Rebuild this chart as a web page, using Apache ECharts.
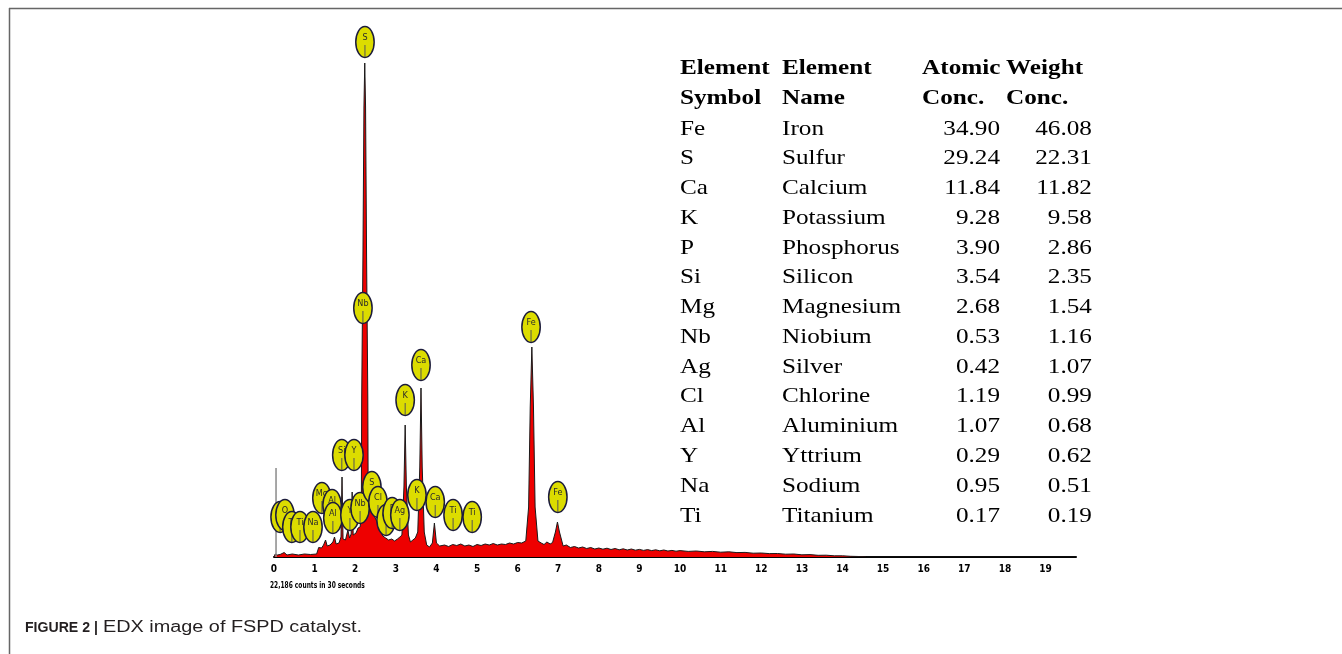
<!DOCTYPE html>
<html><head><meta charset="utf-8">
<script src="https://cdn.jsdelivr.net/npm/echarts@6/dist/echarts.min.js"></script>
<style>html,body{margin:0;padding:0;background:#fff}#c{width:1342px;height:654px}</style>
</head><body><div id="c"></div>
<script>
// EDX spectrum: [energy keV, counts]
const spectrum = [
[0,0],[0.03,30],[0.08,20],[0.15,25],[0.25,45],[0.32,20],[0.45,30],[0.6,20],[0.75,30],[0.9,25],[1.05,30],
[1.1,95],[1.17,90],[1.22,120],[1.27,170],[1.31,110],[1.38,120],[1.45,150],[1.49,200],[1.53,130],[1.6,140],
[1.65,200],[1.675,800],[1.7,180],[1.76,170],[1.82,270],[1.86,190],[1.9,230],[1.925,650],[1.95,220],[2.02,240],
[2.07,290],[2.12,300],[2.15,400],[2.16,1600],[2.19,3000],[2.215,4500],[2.235,4940],[2.255,4500],[2.28,3000],
[2.31,1600],[2.32,500],[2.35,460],[2.38,470],
[2.42,450],[2.48,400],[2.55,340],[2.62,260],[2.68,210],[2.75,190],[2.82,170],[2.9,180],[2.97,160],[3.04,180],
[3.1,200],[3.15,220],[3.2,700],[3.23,1320],[3.26,700],[3.31,220],[3.36,150],[3.42,170],[3.48,190],[3.54,250],
[3.59,900],[3.62,1690],[3.65,900],[3.7,250],[3.76,120],[3.83,100],[3.9,140],[3.95,340],[4.0,140],[4.08,110],
[4.2,120],[4.3,105],[4.4,125],[4.5,115],[4.6,130],[4.7,110],[4.8,120],[4.9,105],[5.0,125],[5.1,115],[5.2,130],
[5.3,120],[5.4,135],[5.5,120],[5.6,130],[5.7,125],[5.8,140],[5.9,130],[6.0,145],[6.1,140],[6.2,160],[6.27,500],
[6.31,1500],[6.35,2100],[6.39,1500],[6.43,500],[6.5,160],[6.58,140],[6.65,125],[6.72,150],[6.8,130],[6.86,145],
[6.93,250],[6.98,350],[7.03,250],[7.12,110],[7.2,120],[7.3,95],[7.4,105],[7.5,90],[7.6,100],[7.7,85],[7.8,95],
[7.9,80],[8.0,90],[8.1,78],[8.2,88],[8.3,75],[8.4,85],[8.5,72],[8.6,82],[8.7,70],[8.8,80],[8.9,68],[9.0,76],
[9.1,66],[9.2,74],[9.3,64],[9.4,72],[9.5,62],[9.6,70],[9.7,60],[9.8,66],[9.9,58],[10.0,64],[10.2,56],[10.4,60],
[10.6,52],[10.8,56],[11.0,48],[11.2,52],[11.4,44],[11.6,46],[11.8,38],[12.0,40],[12.2,34],[12.4,35],[12.6,28],
[12.8,30],[13.0,22],[13.2,24],[13.4,17],[13.6,18],[13.8,12],[14.0,12],[14.2,7],[14.4,5],[14.6,0],[19.75,0]
];
const noisePeak = [[0.05,0],[0.05,890]];

// Peak markers (back to front)
const markerNames  = ['C','O','Ti','Ti','Na','Mg','Al','Si','Y','Al','Y','Nb','S','Cl','Cl','P','Ag','K','Ca','Ti','Ti','K','Ca','Nb','Fe','Fe','S'];
const markerEnergy = [0.15,0.27,0.44,0.64,0.96,1.18,1.43,1.67,1.97,1.45,1.87,2.12,2.41,2.56,2.76,2.91,3.10,3.52,3.97,4.41,4.88,3.23,3.62,2.19,6.33,6.99,2.24];
const markerCounts = [400,420,300,300,300,590,520,1020,1020,390,420,490,700,550,370,440,420,620,550,420,400,1570,1920,2490,2300,600,5150];

// Table
const headLine1 = ['Element','Element','Atomic','Weight'];
const headLine2 = ['Symbol','Name','Conc.','Conc.'];
const tableSymbols = ['Fe','S','Ca','K','P','Si','Mg','Nb','Ag','Cl','Al','Y','Na','Ti'];
const tableNames = ['Iron','Sulfur','Calcium','Potassium','Phosphorus','Silicon','Magnesium','Niobium','Silver','Chlorine','Aluminium','Yttrium','Sodium','Titanium'];
const atomicConc = [34.90,29.24,11.84,9.28,3.90,3.54,2.68,0.53,0.42,1.19,1.07,0.29,0.95,0.17];
const weightConc = [46.08,22.31,11.82,9.58,2.86,2.35,1.54,1.16,1.07,0.99,0.68,0.62,0.51,0.19];

const countsNote = '22,186 counts in 30 seconds';
const captionBold = 'FIGURE 2 |';
const captionText = 'EDX image of FSPD catalyst.';

const chart = echarts.init(document.getElementById('c'));

const serif = '"Liberation Serif","Times New Roman",serif';
const tableChildren = [];
const colLeft = [0, 85];
const colHeadLeft = [201.7, 271.7];
const colRight = [266.7, 343.3];
function tx(text, x, y, bold, align) {
  return {type:'text', x:x, y:y, style:{text:text, font:(bold?'bold ':'')+'21px '+serif, fill:'#000', align:align||'left', verticalAlign:'middle'}};
}
[headLine1, headLine2].forEach((row, r) => {
  const y = 75 + r*30 - 6;
  tableChildren.push(tx(row[0], colLeft[0], y, true));
  tableChildren.push(tx(row[1], colLeft[1], y, true));
  tableChildren.push(tx(row[2], colHeadLeft[0], y, true));
  tableChildren.push(tx(row[3], colHeadLeft[1], y, true));
});
tableSymbols.forEach((s, i) => {
  const y = 135 + i*29.77 - 6;
  tableChildren.push(tx(s, colLeft[0], y));
  tableChildren.push(tx(tableNames[i], colLeft[1], y));
  tableChildren.push(tx(atomicConc[i].toFixed(2), colRight[0], y, false, 'right'));
  tableChildren.push(tx(weightConc[i].toFixed(2), colRight[1], y, false, 'right'));
});

const narrow = '"Liberation Sans Narrow","DejaVu Sans Condensed","Liberation Sans",sans-serif';

chart.setOption({
  animation: false,
  backgroundColor: '#fff',
  grid: {left: 274, right: 266, top: 17, bottom: 97},
  xAxis: {
    type: 'value', min: 0, max: 19.75, interval: 1,
    axisLine: {lineStyle: {color: '#000', width: 2}},
    axisTick: {show: false},
    splitLine: {show: false},
    axisLabel: {
      formatter: v => Number.isInteger(v) ? String(v) : '',
      color: '#000', fontWeight: 'bold', fontSize: 10, fontFamily: narrow, margin: 7
    }
  },
  yAxis: {type: 'value', min: 0, max: 5400, show: false},
  series: [
    {
      type: 'line', data: spectrum, symbol: 'none', z: 2,
      lineStyle: {color: '#1a1a1a', width: 1},
      areaStyle: {color: '#ee0000', opacity: 1}
    },
    {
      type: 'line', data: noisePeak, symbol: 'none', z: 2,
      lineStyle: {color: '#8a8a8a', width: 1.5}
    },
    {
      type: 'custom', z: 5, clip: false,
      data: markerEnergy.map((e, i) => [e, markerCounts[i]]),
      renderItem: function (params, api) {
        const p = api.coord([api.value(0), api.value(1)]);
        return {type: 'group', children: [
          {type: 'ellipse', shape: {cx: p[0], cy: p[1], rx: 9.2, ry: 15.5},
           style: {fill: '#dcdc00', stroke: '#1c1c3c', lineWidth: 1.5}},
          {type: 'line', shape: {x1: p[0], y1: p[1] + 3, x2: p[0], y2: p[1] + 15},
           style: {stroke: '#555', lineWidth: 1}},
          {type: 'text', x: p[0], y: p[1] - 4,
           style: {text: markerNames[params.dataIndex], fill: '#2a2a2a', font: '9px ' + narrow,
                   align: 'center', verticalAlign: 'middle'}}
        ]};
      }
    }
  ],
  graphic: [
    {type: 'line', shape: {x1: 9, y1: 8.5, x2: 1342, y2: 8.5}, style: {stroke: '#666', lineWidth: 1.5}},
    {type: 'line', shape: {x1: 9.5, y1: 8, x2: 9.5, y2: 654}, style: {stroke: '#666', lineWidth: 1.5}},
    {type: 'group', x: 680, y: 0, scaleX: 1.2, children: tableChildren},
    {type: 'text', x: 270, y: 586, scaleX: 0.73,
     style: {text: countsNote, font: 'bold 9px ' + narrow, fill: '#000', verticalAlign: 'middle'}},
    {type: 'text', x: 25, y: 628, scaleX: 0.94,
     style: {text: captionBold, font: 'bold 15px "Liberation Sans",Arial,sans-serif', fill: '#231f20', verticalAlign: 'middle'}},
    {type: 'text', x: 103, y: 628, scaleX: 1.24,
     style: {text: captionText, font: '16px "Liberation Sans",Arial,sans-serif', fill: '#231f20', verticalAlign: 'middle'}}
  ]
});
</script></body></html>
